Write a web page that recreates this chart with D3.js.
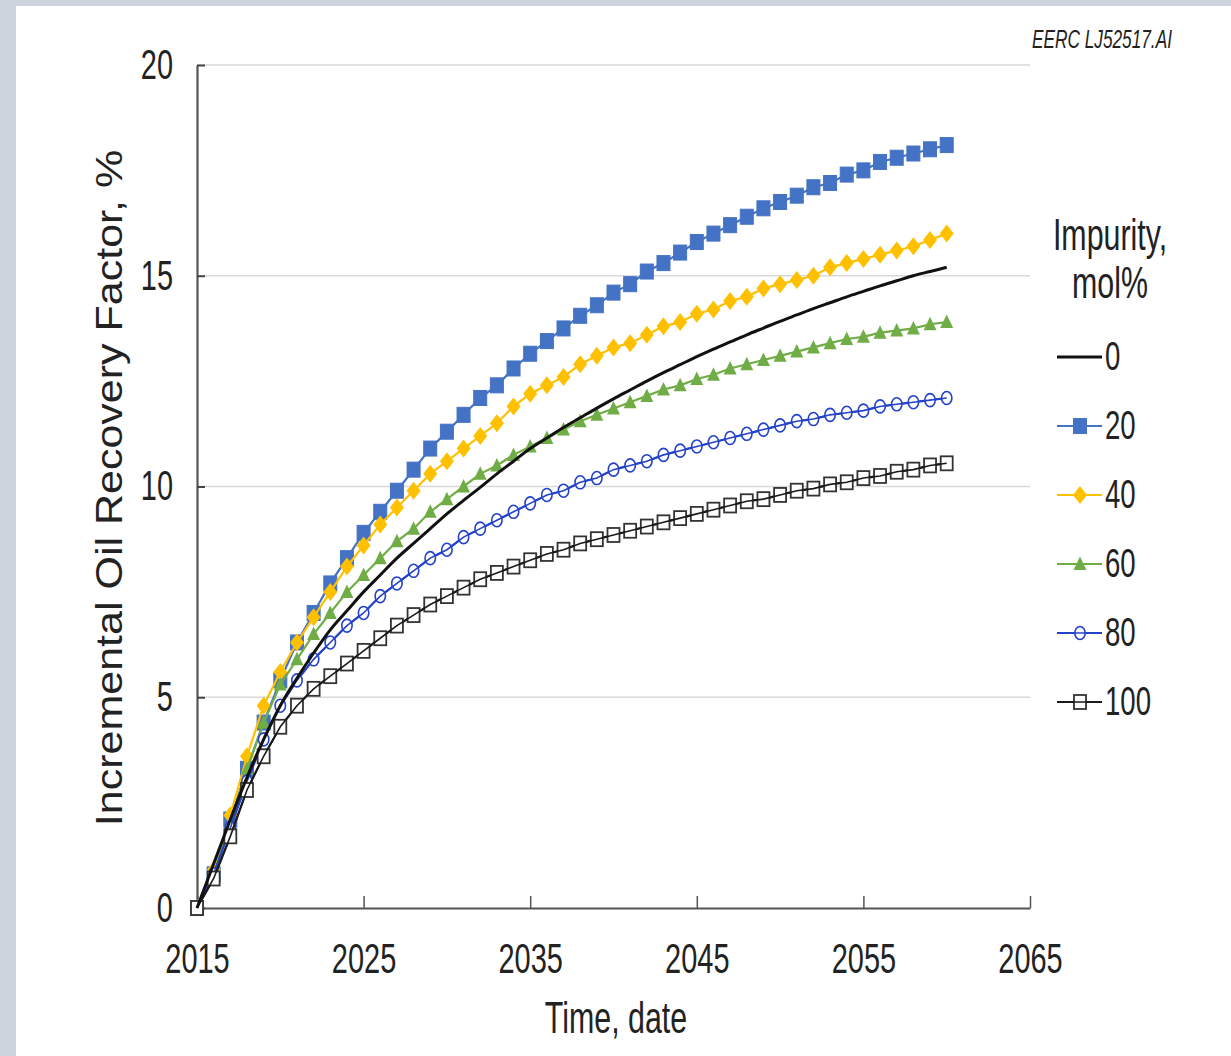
<!DOCTYPE html>
<html>
<head>
  <title>Incremental Oil Recovery</title>
  <script src="https://d3js.org/d3.v7.min.js"></script>
  <style>
    body { margin: 0; background: #fff; }
    text { font-family: "Liberation Sans", Arial, sans-serif; fill: #222; }
  </style>
</head>
<body>
  <svg id="chart"></svg>
  <script>
    // years with one value per year
    const years = d3.range(2015, 2061);

    // incremental oil recovery factor, %
    const imp0   = [0, 1.05, 2.1, 3.1, 4.0, 4.8, 5.45, 6.05, 6.6, 7.05, 7.5, 7.9, 8.3, 8.65, 9.0, 9.35, 9.67, 9.98, 10.3, 10.6,
                    10.9, 11.15, 11.4, 11.63, 11.86, 12.08, 12.29, 12.5, 12.7, 12.89, 13.08, 13.26, 13.43, 13.6, 13.76, 13.92,
                    14.07, 14.22, 14.36, 14.5, 14.63, 14.76, 14.88, 15.0, 15.1, 15.2];
    const imp20  = [0, 0.8, 2.1, 3.3, 4.4, 5.4, 6.3, 7.0, 7.7, 8.3, 8.9, 9.4, 9.9, 10.4, 10.9, 11.3, 11.7, 12.1, 12.4, 12.8,
                    13.15, 13.45, 13.75, 14.05, 14.3, 14.6, 14.8, 15.1, 15.3, 15.55, 15.8, 16.0, 16.2, 16.4, 16.6, 16.75,
                    16.9, 17.1, 17.2, 17.4, 17.5, 17.7, 17.8, 17.9, 18.0, 18.1];
    const imp40  = [0, 0.9, 2.2, 3.6, 4.8, 5.6, 6.3, 6.9, 7.5, 8.1, 8.6, 9.1, 9.5, 9.9, 10.3, 10.6, 10.9, 11.2, 11.5, 11.9,
                    12.2, 12.4, 12.6, 12.9, 13.1, 13.3, 13.4, 13.6, 13.8, 13.9, 14.1, 14.2, 14.4, 14.5, 14.7, 14.8,
                    14.9, 15.0, 15.2, 15.3, 15.4, 15.5, 15.6, 15.7, 15.85, 16.0];
    const imp60  = [0, 0.8, 2.0, 3.3, 4.4, 5.3, 5.9, 6.5, 7.0, 7.5, 7.9, 8.3, 8.7, 9.0, 9.4, 9.7, 10.0, 10.3, 10.5, 10.75,
                    10.95, 11.15, 11.35, 11.55, 11.7, 11.85, 12.0, 12.15, 12.3, 12.4, 12.55, 12.65, 12.8, 12.9, 13.0, 13.1,
                    13.2, 13.3, 13.4, 13.5, 13.55, 13.65, 13.7, 13.75, 13.85, 13.9];
    const imp80  = [0, 0.8, 1.9, 3.0, 4.0, 4.8, 5.4, 5.9, 6.3, 6.7, 7.0, 7.4, 7.7, 8.0, 8.3, 8.5, 8.8, 9.0, 9.2, 9.4,
                    9.6, 9.8, 9.9, 10.1, 10.2, 10.4, 10.5, 10.6, 10.75, 10.85, 10.95, 11.05, 11.15, 11.25, 11.35, 11.45,
                    11.55, 11.6, 11.7, 11.75, 11.8, 11.9, 11.95, 12.0, 12.05, 12.1];
    const imp100 = [0, 0.7, 1.7, 2.8, 3.6, 4.3, 4.8, 5.2, 5.5, 5.8, 6.1, 6.4, 6.7, 6.95, 7.2, 7.4, 7.6, 7.8, 7.95, 8.1,
                    8.25, 8.4, 8.5, 8.65, 8.75, 8.85, 8.95, 9.05, 9.15, 9.25, 9.35, 9.45, 9.55, 9.65, 9.7, 9.8,
                    9.9, 9.95, 10.05, 10.1, 10.2, 10.25, 10.35, 10.4, 10.5, 10.55];

    const legendLabels = ["0", "20", "40", "60", "80", "100"];
    const xTicks = [2015, 2025, 2035, 2045, 2055, 2065];
    const yTicks = [0, 5, 10, 15, 20];

    const W = 1231, H = 1056;
    const SX = 0.69; // narrow look of the lettering

    const series = [
      {label: "20",  values: imp20,  line: "#4472c4", marker: "square",  fill: "#4472c4", stroke: "#4472c4"},
      {label: "40",  values: imp40,  line: "#ffc000", marker: "diamond", fill: "#ffc000", stroke: "#ffc000"},
      {label: "60",  values: imp60,  line: "#70ad47", marker: "triangle", fill: "#70ad47", stroke: "#70ad47"},
      {label: "80",  values: imp80,  line: "#2443c8", marker: "circle",  fill: "#fff", stroke: "#2443c8"},
      {label: "100", values: imp100, line: "#1a1a1a", marker: "osquare", fill: "#fff", stroke: "#333"},
      {label: "0",   values: imp0,   line: "#111",    marker: null}
    ];

    const svg = d3.select("#chart").attr("width", W).attr("height", H);

    // page frame
    svg.append("rect").attr("width", W).attr("height", H).attr("fill", "#cdd4dd");
    svg.append("rect").attr("x", 16).attr("y", 6).attr("width", W - 16).attr("height", H - 6).attr("fill", "#fff");

    const x = d3.scaleLinear().domain([2015, 2065]).range([197, 1030]);
    const y = d3.scaleLinear().domain([0, 20]).range([908, 65]);

    function squeeze(sel, s) {
      sel.each(function() {
        const t = d3.select(this);
        const tx = +t.attr("x") || 0, ty = +t.attr("y") || 0;
        t.attr("x", null).attr("y", null)
          .attr("transform", `translate(${tx},${ty}) scale(${s || SX},1)`);
      });
    }

    // gridlines
    svg.append("g").selectAll("line")
      .data(yTicks.filter(d => d > 0))
      .join("line")
        .attr("x1", 197).attr("x2", 1030)
        .attr("y1", d => y(d)).attr("y2", d => y(d))
        .attr("stroke", "#d9d9d9").attr("stroke-width", 1.5);

    // x axis
    const gx = svg.append("g")
      .attr("transform", `translate(0,${y(0)})`)
      .call(d3.axisBottom(x).tickValues(xTicks).tickFormat(d3.format("d"))
        .tickSizeInner(-12).tickSizeOuter(0).tickPadding(35));
    gx.select(".domain").attr("stroke", "#555").attr("stroke-width", 2.2);
    gx.selectAll(".tick line").attr("stroke", "#555").attr("stroke-width", 1.5);
    gx.selectAll(".tick text").attr("font-size", 42).attr("fill", "#222")
      .attr("font-family", "Liberation Sans, Arial, sans-serif").call(squeeze);

    // y axis
    const gy = svg.append("g")
      .attr("transform", `translate(${x(2015)},0)`)
      .call(d3.axisLeft(y).tickValues(yTicks)
        .tickSizeInner(-8).tickSizeOuter(0).tickPadding(24));
    gy.select(".domain").attr("stroke", "#555").attr("stroke-width", 2.2);
    gy.selectAll(".tick line").attr("stroke", "#444").attr("stroke-width", 2);
    gy.selectAll(".tick text").attr("font-size", 42).attr("fill", "#222")
      .attr("font-family", "Liberation Sans, Arial, sans-serif").call(squeeze);

    // axis titles
    svg.append("text")
      .attr("x", 616).attr("y", 1033)
      .attr("text-anchor", "middle").attr("font-size", 44)
      .text("Time, date").call(squeeze);
    svg.append("text")
      .attr("transform", `translate(122,488) scale(0.88,1) rotate(-90)`)
      .attr("text-anchor", "middle").attr("font-size", 43)
      .text("Incremental Oil Recovery Factor, %");

    // source tag
    svg.append("text")
      .attr("x", 1032).attr("y", 48)
      .attr("font-size", 25).attr("font-style", "italic").attr("fill", "#333")
      .text("EERC LJ52517.AI").call(squeeze);

    function marker(g, type, fill, stroke) {
      if (type === "square") {
        g.append("rect").attr("x", -6.5).attr("y", -7.5).attr("width", 13).attr("height", 15)
          .attr("fill", fill).attr("stroke", stroke).attr("stroke-width", 1);
      } else if (type === "diamond") {
        g.append("path").attr("d", "M0,-9L7,0L0,9L-7,0Z").attr("fill", fill);
      } else if (type === "triangle") {
        g.append("path").attr("d", "M0,-7.5L6.5,6L-6.5,6Z").attr("fill", fill);
      } else if (type === "circle") {
        g.append("ellipse").attr("rx", 5.2).attr("ry", 6.5)
          .attr("fill", fill).attr("stroke", stroke).attr("stroke-width", 1.6);
      } else if (type === "osquare") {
        g.append("rect").attr("x", -6).attr("y", -7).attr("width", 12).attr("height", 14)
          .attr("fill", fill).attr("stroke", stroke).attr("stroke-width", 1.8);
      }
    }

    const line = d3.line().x((d, i) => x(years[i])).y(d => y(d));
    const smooth = d3.line().x((d, i) => x(years[i])).y(d => y(d)).curve(d3.curveMonotoneX);

    series.forEach(s => {
      const g = svg.append("g");
      g.append("path")
        .attr("d", s.marker ? line(s.values) : smooth(s.values))
        .attr("fill", "none")
        .attr("stroke", s.line)
        .attr("stroke-width", s.marker ? 2.2 : 3);
      if (s.marker) {
        g.selectAll("g.m")
          .data(s.values)
          .join("g").attr("class", "m")
            .attr("transform", (d, i) => `translate(${x(years[i])},${y(d)})`)
            .each(function() { marker(d3.select(this), s.marker, s.fill, s.stroke); });
        // line over open markers so it shows through them
        if (s.fill === "#fff") {
          g.append("path").attr("d", line(s.values)).attr("fill", "none")
            .attr("stroke", s.line).attr("stroke-width", 1.6);
        }
      }
    });

    // legend
    const legend = svg.append("g");
    legend.append("text").attr("x", 1110).attr("y", 250).attr("text-anchor", "middle")
      .attr("font-size", 44).text("Impurity,").call(squeeze);
    legend.append("text").attr("x", 1110).attr("y", 298).attr("text-anchor", "middle")
      .attr("font-size", 44).text("mol%").call(squeeze);

    const legendY = d3.scalePoint().domain(legendLabels).range([357, 702]);
    legendLabels.forEach(lab => {
      const s = series.find(d => d.label === lab);
      const ly = legendY(lab);
      const g = legend.append("g");
      g.append("line").attr("x1", 1057).attr("x2", 1102).attr("y1", ly).attr("y2", ly)
        .attr("stroke", s.line).attr("stroke-width", s.marker ? 2.2 : 3);
      if (s.marker) {
        const m = g.append("g").attr("transform", `translate(1080,${ly})`);
        marker(m, s.marker, s.fill, s.stroke);
        if (s.fill === "#fff") {
          g.append("line").attr("x1", 1057).attr("x2", 1102).attr("y1", ly).attr("y2", ly)
            .attr("stroke", s.line).attr("stroke-width", 1.6);
        }
      }
      g.append("text").attr("x", 1105).attr("y", ly).attr("dy", "0.33em")
        .attr("font-size", 40).text(lab).call(squeeze);
    });
  </script>
</body>
</html>
